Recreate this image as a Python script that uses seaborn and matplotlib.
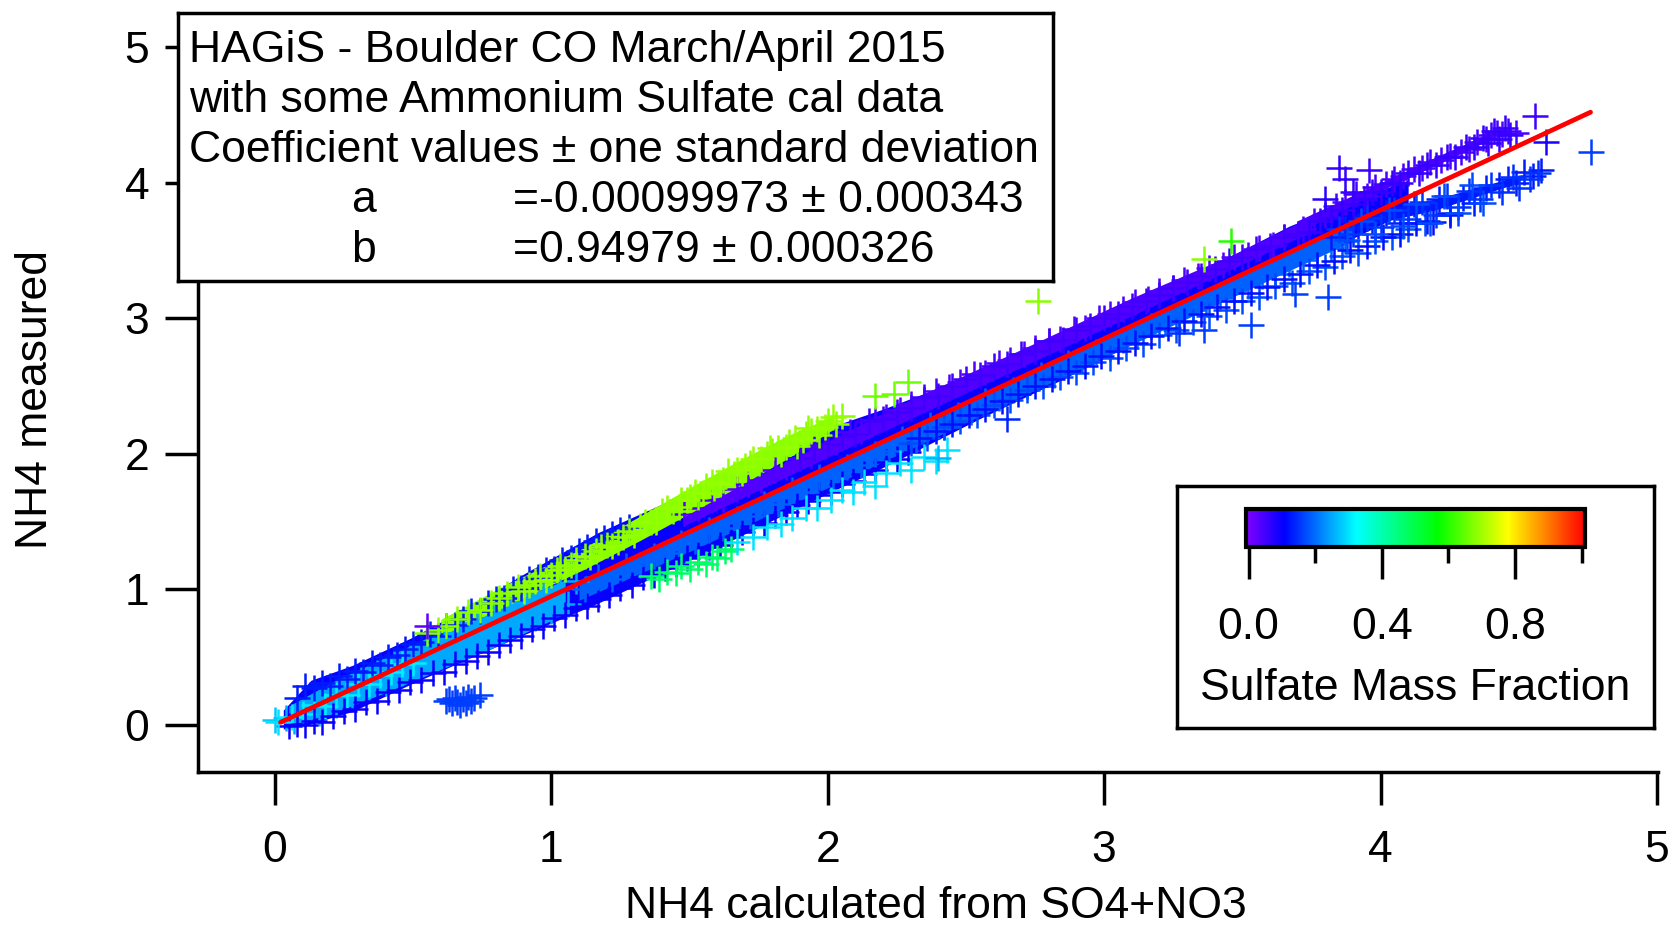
# -*- coding: utf-8 -*-
"""
NH4 measured vs NH4 calculated, coloured by sulfate mass fraction
"""
import pandas as pd
import seaborn as sns
import matplotlib as mpl
from matplotlib import pyplot as plt
from matplotlib.colors import LinearSegmentedColormap, Normalize

X_TICKS = [0, 1, 2, 3, 4, 5]
Y_TICKS = [0, 1, 2, 3, 4, 5]
CBAR_TICKS = [0.0, 0.4, 0.8]
CBAR_MINOR = [0.2, 0.6, 1.0]
BOX_LINES = ['HAGiS - Boulder CO March/April 2015',
             'with some Ammonium Sulfate cal data',
             'Coefficient values \u00b1 one standard deviation']
COEF_NAMES = ['a', 'b']
COEF_VALUES = ['=-0.00099973 \u00b1 0.000343', '=0.94979 \u00b1 0.000326']

fit_x = [0.02, 4.76]
fit_y = [0.02, 4.52]

# solid core of the cloud, lower and upper edge
core_x = [0.03, 0.13, 0.28, 0.49, 0.70, 0.905, 1.17, 1.39, 1.66, 1.94, 2.2, 2.56, 2.85, 3.11, 3.4, 3.67, 3.9, 4.1]
core_lo = [-0.03, 0.01, 0.10, 0.30, 0.49, 0.67, 0.90, 1.11, 1.37, 1.65, 1.90, 2.27, 2.55, 2.82, 3.10, 3.37, 3.59, 3.79]
core_hi = [0.11, 0.33, 0.44, 0.64, 0.87, 1.12, 1.42, 1.62, 1.85, 2.15, 2.33, 2.61, 2.88, 3.14, 3.40, 3.68, 3.87, 4.02]
light_x = [0.05, 0.2, 0.4, 0.6, 0.8, 1.05]
light_lo = [0.0, 0.08, 0.24, 0.41, 0.58, 0.82]
light_hi = [0.14, 0.31, 0.50, 0.69, 0.86, 1.07]
azure_x = [1.1, 1.5, 2, 2.5, 3, 3.5, 3.9]
azure_lo = [0.92, 1.28, 1.75, 2.23, 2.71, 3.19, 3.57]
azure_hi = [1.06, 1.44, 1.91, 2.39, 2.86, 3.33, 3.72]
violet_x = [1.48, 1.9, 2.3, 2.7, 3.1, 3.5, 3.75]
violet_lo = [1.47, 1.88, 2.26, 2.64, 3.02, 3.40, 3.64]
violet_hi = [1.58, 1.99, 2.40, 2.77, 3.15, 3.50, 3.75]
lime_x = [0.6, 0.84, 1.12, 1.32, 1.5, 1.66, 1.85, 2.02]
lime_lo = [0.66, 0.88, 1.15, 1.36, 1.56, 1.74, 1.96, 2.18]
lime_hi = [0.78, 1.04, 1.31, 1.54, 1.75, 1.93, 2.13, 2.28]
arm_up_bx = [3.7, 4.0, 4.2, 4.4]
arm_up_lo = [3.63, 3.94, 4.13, 4.32]
arm_up_hi = [3.72, 4.00, 4.19, 4.37]
arm_low_bx = [3.9, 4.2, 4.5]
arm_low_lo = [3.66, 3.80, 4.00]
arm_low_hi = [3.76, 3.88, 4.05]

# single samples, one pair of lists per air mass
top_x = [0.08, 0.11, 0.14, 0.17, 0.20, 0.23, 0.26, 0.29, 0.32, 0.35, 0.38, 0.41, 0.44, 0.47, 0.50, 0.53, 0.56, 0.59, 0.62, 0.65,
         0.68, 0.71, 0.74, 0.77, 0.80, 0.83, 0.86, 0.89, 0.92, 0.95, 0.98, 1.01, 1.04, 1.07, 1.10, 1.13, 1.16, 1.19, 1.22, 1.25, 1.28]
top_y = [0.20, 0.29, 0.27, 0.31, 0.29, 0.36, 0.34, 0.40, 0.39, 0.46, 0.44, 0.50, 0.52, 0.56, 0.60, 0.61, 0.67, 0.66, 0.73, 0.74,
         0.78, 0.84, 0.84, 0.90, 0.93, 0.94, 1.00, 1.01, 1.08, 1.09, 1.14, 1.15, 1.22, 1.23, 1.28, 1.31, 1.36, 1.38, 1.41, 1.44, 1.46]
light_pts_x = [0.04, 0.07, 0.10, 0.13, 0.16, 0.19, 0.22, 0.25, 0.28, 0.31, 0.34, 0.37, 0.40, 0.43, 0.46, 0.49, 0.52, 0.55, 0.58,
               0.61, 0.64, 0.67, 0.70, 0.73, 0.76, 0.79, 0.82, 0.85, 0.88, 0.91, 0.94, 0.97, 1.00, 1.03, 1.06, 1.09]
light_pts_y = [0.05, 0.03, 0.10, 0.12, 0.09, 0.19, 0.15, 0.27, 0.21, 0.33, 0.27, 0.38, 0.31, 0.45, 0.38, 0.50, 0.44, 0.58, 0.48,
               0.62, 0.54, 0.68, 0.59, 0.75, 0.65, 0.79, 0.69, 0.85, 0.74, 0.91, 0.79, 0.97, 0.84, 1.01, 0.89, 1.06]
cyan_low_x = [0.06, 0.10, 0.14, 0.18, 0.22, 0.26, 0.30, 0.34, 0.38, 0.42, 0.46, 0.50]
cyan_low_y = [0.06, 0.08, 0.15, 0.14, 0.22, 0.22, 0.30, 0.30, 0.37, 0.39, 0.45, 0.46]
bottom_x = [0.05, 0.08, 0.11, 0.14, 0.17, 0.21, 0.25, 0.29, 0.33, 0.37, 0.41, 0.45, 0.49, 0.53, 0.57, 0.61, 0.65, 0.69, 0.73, 0.77,
            0.81, 0.85, 0.89, 0.93, 0.97, 1.01, 1.05, 1.09, 1.13, 1.17, 1.21, 1.25, 1.29, 1.33, 1.37, 1.41, 1.45, 1.49, 1.53, 1.57,
            1.61, 1.65, 1.69, 1.73, 1.77, 1.81, 1.85, 1.89, 1.93, 1.97, 2.01, 2.05, 2.09, 2.13, 2.17, 2.21, 2.25, 2.29]
bottom_y = [-0.01, 0.01, 0.00, 0.03, 0.02, 0.07, 0.10, 0.12, 0.17, 0.18, 0.24, 0.26, 0.32, 0.33, 0.38, 0.39, 0.45, 0.47, 0.51, 0.54,
            0.59, 0.63, 0.66, 0.71, 0.73, 0.79, 0.81, 0.86, 0.88, 0.93, 0.96, 1.01, 1.03, 1.09, 1.11, 1.16, 1.19, 1.23, 1.26, 1.31,
            1.33, 1.39, 1.42, 1.47, 1.49, 1.55, 1.57, 1.62, 1.65, 1.70, 1.72, 1.78, 1.80, 1.85, 1.88, 1.94, 1.96, 2.01]
mid_x = [1.12, 1.17, 1.22, 1.27, 1.32, 1.37, 1.42, 1.47, 1.52, 1.57, 1.62, 1.67, 1.72, 1.77, 1.82, 1.87, 1.92, 1.97, 2.02, 2.07,
         2.12, 2.17, 2.22, 2.27, 2.32, 2.37, 2.42, 2.47, 2.52, 2.57, 2.62, 2.67, 2.72, 2.77, 2.82, 2.87, 2.92, 2.97, 3.02, 3.07,
         3.12, 3.17, 3.22, 3.27, 3.32, 3.37, 3.42, 3.47, 3.52, 3.57, 3.62, 3.67, 3.72, 3.77, 3.82, 3.87]
mid_y = [1.00, 1.09, 1.08, 1.17, 1.18, 1.25, 1.27, 1.34, 1.36, 1.44, 1.45, 1.52, 1.54, 1.63, 1.63, 1.73, 1.72, 1.83, 1.82, 1.90,
         1.92, 2.00, 2.02, 2.11, 2.10, 2.21, 2.20, 2.29, 2.31, 2.39, 2.41, 2.47, 2.50, 2.58, 2.58, 2.67, 2.69, 2.75, 2.78, 2.84,
         2.87, 2.94, 2.97, 3.03, 3.06, 3.12, 3.15, 3.21, 3.24, 3.31, 3.33, 3.40, 3.43, 3.50, 3.52, 3.57]
low_edge_x = [2.30, 2.36, 2.42, 2.48, 2.54, 2.60, 2.66, 2.72, 2.78, 2.84, 2.90, 2.96, 3.02, 3.08, 3.14, 3.20, 3.26, 3.32, 3.38,
              3.44, 3.50, 3.56, 3.62, 3.68, 3.74, 3.80, 3.86, 3.92, 3.98, 4.04, 4.10, 4.16]
low_edge_y = [2.08, 2.12, 2.20, 2.24, 2.29, 2.36, 2.40, 2.47, 2.50, 2.57, 2.60, 2.68, 2.71, 2.78, 2.81, 2.88, 2.91, 2.97, 3.02,
              3.06, 3.13, 3.16, 3.24, 3.26, 3.35, 3.38, 3.46, 3.48, 3.57, 3.60, 3.66, 3.70]
low2_x = [2.33, 2.39, 2.45, 2.51, 2.57, 2.63, 2.69, 2.75, 2.81, 2.87, 2.93, 2.99, 3.05, 3.11, 3.17, 3.23, 3.29, 3.35, 3.41, 3.47,
          3.53, 3.59, 3.65, 3.71, 3.77, 3.83, 3.89, 3.95, 4.01, 4.07, 4.13, 4.19, 4.25]
low2_y = [2.12, 2.17, 2.22, 2.29, 2.33, 2.39, 2.44, 2.50, 2.55, 2.61, 2.65, 2.72, 2.76, 2.82, 2.87, 2.93, 2.98, 3.03, 3.08, 3.13,
          3.19, 3.23, 3.29, 3.33, 3.39, 3.42, 3.50, 3.53, 3.60, 3.62, 3.70, 3.71, 3.76]
vio_x = [1.48, 1.53, 1.58, 1.62, 1.67, 1.71, 1.76, 1.81, 1.85, 1.90, 1.94, 1.99, 2.03, 2.08, 2.12, 2.17, 2.21, 2.26, 2.30, 2.35,
         2.39, 2.44, 2.48, 2.53, 2.57, 2.62, 2.66, 2.71, 2.75, 2.80, 2.84, 2.89, 2.93, 2.98, 3.02, 3.07, 3.11, 3.16, 3.20, 3.25,
         3.29, 3.34, 3.38, 3.43, 3.47, 3.52, 3.56, 3.61, 3.65, 3.70]
vio_y = [1.56, 1.60, 1.66, 1.67, 1.74, 1.78, 1.81, 1.88, 1.90, 1.97, 1.99, 2.06, 2.09, 2.16, 2.17, 2.25, 2.27, 2.32, 2.37, 2.40,
         2.46, 2.49, 2.53, 2.59, 2.60, 2.67, 2.69, 2.74, 2.78, 2.83, 2.85, 2.92, 2.93, 3.00, 3.03, 3.07, 3.12, 3.14, 3.20, 3.22,
         3.28, 3.31, 3.37, 3.39, 3.45, 3.47, 3.52, 3.54, 3.60, 3.62]
vio2_x = [1.90, 1.95, 2.00, 2.05, 2.10, 2.15, 2.20, 2.25, 2.30, 2.35, 2.40, 2.45, 2.50, 2.55, 2.60, 2.65, 2.70, 2.75, 2.80, 2.85,
          2.90, 2.95, 3.00, 3.05, 3.10, 3.15, 3.20, 3.25, 3.30, 3.35, 3.40, 3.45, 3.50, 3.55, 3.60, 3.65, 3.70]
vio2_y = [1.97, 2.04, 2.07, 2.13, 2.15, 2.24, 2.26, 2.31, 2.34, 2.42, 2.43, 2.50, 2.55, 2.58, 2.65, 2.66, 2.74, 2.76, 2.83, 2.84,
          2.91, 2.94, 3.00, 3.03, 3.09, 3.13, 3.17, 3.22, 3.27, 3.31, 3.36, 3.42, 3.45, 3.51, 3.53, 3.60, 3.62]
arm_up_x = [3.72, 3.76, 3.80, 3.84, 3.87, 3.91, 3.95, 3.98, 4.02, 4.05, 4.08, 4.12, 4.15, 4.18, 4.22, 4.25, 4.29, 4.32, 4.35, 4.38,
            4.40, 4.42, 4.44, 4.46, 4.49]
arm_up_y = [3.66, 3.72, 3.76, 3.83, 3.86, 3.92, 3.90, 3.97, 3.99, 4.03, 4.05, 4.10, 4.11, 4.15, 4.17, 4.20, 4.23, 4.25, 4.30, 4.32,
            4.35, 4.37, 4.36, 4.38, 4.37]
arm_up2_x = [3.74, 3.78, 3.82, 3.86, 3.90, 3.94, 3.97, 4.00, 4.04, 4.07, 4.10, 4.14, 4.17, 4.20, 4.24, 4.27, 4.31, 4.34, 4.37, 4.39,
             4.41, 4.43, 4.45, 4.47]
arm_up2_y = [3.64, 3.72, 3.74, 3.80, 3.84, 3.88, 3.93, 3.93, 4.00, 4.00, 4.07, 4.07, 4.13, 4.13, 4.19, 4.19, 4.26, 4.26, 4.33, 4.29,
             4.38, 4.32, 4.40, 4.35]
arm_low_x = [3.82, 3.87, 3.92, 3.97, 4.02, 4.07, 4.12, 4.17, 4.21, 4.25, 4.30, 4.34, 4.38, 4.43, 4.46, 4.49, 4.52, 4.55, 4.58]
arm_low_y = [3.60, 3.66, 3.68, 3.72, 3.78, 3.70, 3.84, 3.72, 3.88, 3.78, 3.89, 3.85, 3.96, 3.98, 4.03, 4.00, 4.08, 4.05, 4.09]
arm_low2_x = [3.85, 3.90, 3.95, 4.00, 4.05, 4.10, 4.15, 4.20, 4.24, 4.28, 4.32, 4.36, 4.40, 4.44, 4.48, 4.50, 4.54, 4.57]
arm_low2_y = [3.66, 3.62, 3.74, 3.67, 3.80, 3.73, 3.86, 3.76, 3.90, 3.82, 3.94, 3.88, 3.98, 3.93, 4.04, 3.96, 4.03, 4.07]
arm_low3_x = [3.88, 3.93, 3.98, 4.03, 4.08, 4.13, 4.18, 4.23, 4.28, 4.33, 4.37]
arm_low3_y = [3.58, 3.72, 3.62, 3.80, 3.68, 3.84, 3.70, 3.90, 3.78, 3.98, 3.85]
lime_pts_x = [0.55, 0.59, 0.62, 0.66, 0.70, 0.74, 0.78, 0.81, 0.84, 0.88, 0.92, 0.96, 1.00, 1.03, 1.07, 1.12, 1.16, 1.20, 1.24, 1.28,
              1.32, 1.36, 1.40, 1.44, 1.47, 1.50, 1.53, 1.56, 1.59, 1.62, 1.66, 1.69, 1.72, 1.75, 1.78, 1.80, 1.83, 1.86, 1.89, 1.92,
              1.94, 1.97, 2.00, 2.03, 2.05]
lime_pts_y = [0.68, 0.70, 0.73, 0.78, 0.83, 0.85, 0.90, 0.94, 0.97, 1.02, 1.03, 1.10, 1.11, 1.17, 1.18, 1.25, 1.28, 1.33, 1.35, 1.43,
              1.47, 1.50, 1.58, 1.58, 1.66, 1.68, 1.68, 1.76, 1.75, 1.81, 1.85, 1.86, 1.93, 1.93, 2.00, 2.02, 2.00, 2.09, 2.06, 2.15,
              2.17, 2.14, 2.24, 2.22, 2.28]
lime2_x = [0.90, 0.94, 0.98, 1.02, 1.05, 1.09, 1.14, 1.18, 1.22, 1.26, 1.30, 1.34, 1.38, 1.42, 1.46, 1.49, 1.52, 1.55, 1.58, 1.61,
           1.64, 1.67, 1.70, 1.73, 1.76, 1.79, 1.82, 1.85, 1.88, 1.91, 1.93, 1.96, 1.99, 2.02]
lime2_y = [0.99, 1.06, 1.07, 1.14, 1.15, 1.22, 1.24, 1.31, 1.32, 1.39, 1.40, 1.50, 1.50, 1.60, 1.61, 1.66, 1.72, 1.71, 1.79, 1.78,
           1.87, 1.88, 1.91, 1.96, 1.96, 2.04, 2.04, 2.05, 2.12, 2.10, 2.19, 2.18, 2.20, 2.27]
spring_x = [1.36, 1.39, 1.42, 1.45, 1.47, 1.50, 1.53, 1.56, 1.58, 1.60, 1.63, 1.65]
spring_y = [1.10, 1.08, 1.13, 1.12, 1.17, 1.15, 1.20, 1.19, 1.24, 1.23, 1.28, 1.30]
cyan_x = [1.67, 1.73, 1.78, 1.83, 1.87, 1.92, 1.96, 2.01, 2.05, 2.09, 2.13, 2.17, 2.21, 2.26, 2.30, 2.35, 2.39, 2.43]
cyan_y = [1.35, 1.39, 1.46, 1.48, 1.53, 1.60, 1.60, 1.66, 1.73, 1.72, 1.79, 1.76, 1.86, 1.93, 1.88, 1.98, 1.95, 2.03]
patch_x = [0.62, 0.63, 0.64, 0.65, 0.66, 0.67, 0.68, 0.69, 0.70, 0.71, 0.72, 0.74]
patch_y = [0.18, 0.19, 0.16, 0.20, 0.17, 0.15, 0.19, 0.16, 0.21, 0.18, 0.20, 0.22]
stray_x = [2.76, 3.46, 3.36, 2.29, 2.17, 2.24, 4.76, 4.56, 4.60, 3.85, 3.96, 3.87, 3.80, 3.90, 3.53, 3.81, 3.69, 3.36, 3.27, 2.65, 2.40, 0.55, 0.0, 0.01]
stray_y = [3.13, 3.57, 3.44, 2.53, 2.43, 2.44, 4.23, 4.49, 4.30, 4.11, 4.09, 4.03, 3.88, 3.93, 2.95, 3.16, 3.18, 2.91, 2.89, 2.26, 1.97, 0.73, 0.04, 0.02]
stray_frac = [0.68, 0.60, 0.68, 0.66, 0.66, 0.66, 0.16, 0.05, 0.08, 0.06, 0.05, 0.06, 0.07, 0.06, 0.16, 0.16, 0.16, 0.16, 0.15, 0.14, 0.26, 0.02, 0.28, 0.30]

FRAC_NODES = [0.0, 0.113, 0.325, 0.566, 0.773, 1.0]
FRAC_COLOURS = ['#8000ff', '#0000ff', '#00ffff', '#00ff00', '#ffff00', '#ff0000']

W, H = 1672, 927
LW = 2.5
FS = 32

sns.set_style('ticks')
plt.rcParams['font.family'] = ['Liberation Sans', 'DejaVu Sans']
plt.rcParams['text.color'] = 'k'
plt.rcParams['axes.labelcolor'] = 'k'
plt.rcParams['xtick.labelcolor'] = 'k'
plt.rcParams['ytick.labelcolor'] = 'k'

rainbow = LinearSegmentedColormap.from_list('rainbow_igor', list(zip(FRAC_NODES, FRAC_COLOURS)), N=512)
norm = Normalize(vmin=-0.008, vmax=1.01)


def px_axes(fig, left, top, right, bottom, zorder=1):
    """Axes placed by pixel edges of the final image"""
    return fig.add_axes([left/W, 1 - bottom/H, (right - left)/W, (bottom - top)/H], zorder=zorder)


groups = [(light_pts_x, light_pts_y, 0.25), (cyan_low_x, cyan_low_y, 0.31), (bottom_x, bottom_y, 0.10),
          (mid_x, mid_y, 0.19), (low_edge_x, low_edge_y, 0.17), (low2_x, low2_y, 0.12),
          (vio_x, vio_y, 0.035), (vio2_x, vio2_y, 0.05),
          (arm_up_x, arm_up_y, 0.04), (arm_up2_x, arm_up2_y, 0.06),
          (arm_low_x, arm_low_y, 0.13), (arm_low2_x, arm_low2_y, 0.15), (arm_low3_x, arm_low3_y, 0.17),
          (top_x, top_y, 0.13), (lime_pts_x, lime_pts_y, 0.68), (lime2_x, lime2_y, 0.69),
          (spring_x, spring_y, 0.47), (cyan_x, cyan_y, 0.30), (patch_x, patch_y, 0.16)]
frames = [pd.DataFrame({'calc': gx, 'meas': gy, 'frac': fr}) for gx, gy, fr in groups]
frames.append(pd.DataFrame({'calc': stray_x, 'meas': stray_y, 'frac': stray_frac}))
df = pd.concat(frames, ignore_index=True)

fig = plt.figure(figsize=(W/100, H/100), dpi=100)
ax = px_axes(fig, 198, 20, 1658, 772)

bands = [(core_x, core_lo, core_hi, 0.10), (light_x, light_lo, light_hi, 0.25),
         (azure_x, azure_lo, azure_hi, 0.19), (violet_x, violet_lo, violet_hi, 0.035),
         (arm_up_bx, arm_up_lo, arm_up_hi, 0.04), (arm_low_bx, arm_low_lo, arm_low_hi, 0.13),
         (lime_x, lime_lo, lime_hi, 0.68)]
for bx, lo, hi, fr in bands:
    ax.fill_between(bx, lo, hi, color=rainbow(norm(fr)), lw=0, zorder=0.5)

sns.scatterplot(data=df, x='calc', y='meas', hue='frac', palette=rainbow, hue_norm=norm,
                marker='+', s=350, linewidth=1.8, legend=False, ax=ax)
sns.lineplot(x=fit_x, y=fit_y, color='#ff0000', linewidth=3.4, sort=False, ax=ax)

ax.set_xlim(-0.2786, 5.004)
ax.set_ylim(-0.3466, 5.2)
ax.set_xticks(X_TICKS)
ax.set_yticks(Y_TICKS)
ax.tick_params(axis='x', length=24, width=LW, labelsize=FS, pad=18, color='k')
ax.tick_params(axis='y', length=24, width=LW, labelsize=FS, pad=11, color='k')
for side in ['top', 'right']:
    ax.spines[side].set_visible(False)
for side in ['left', 'bottom']:
    ax.spines[side].set_linewidth(LW)
    ax.spines[side].set_color('k')
ax.set_xlabel('NH4 calculated from SO4+NO3', fontsize=FS, va='center')
ax.set_ylabel('NH4 measured', fontsize=FS, va='center')
ax.xaxis.set_label_coords(0.5055, -0.1795)
ax.yaxis.set_label_coords(-0.1115, 0.4947)

# fit results box
box = px_axes(fig, 178, 13, 1053, 281, zorder=5)
box.set_xlim(178, 1053)
box.set_ylim(281, 13)
box.set_xticks([])
box.set_yticks([])
for spine in box.spines.values():
    spine.set_linewidth(LW)
    spine.set_color('k')
for line, ypos in zip(BOX_LINES, [50, 100, 151]):
    box.text(189, ypos, line, fontsize=FS, va='center', ha='left')
for name, value, ypos in zip(COEF_NAMES, COEF_VALUES, [201, 251]):
    box.text(351, ypos, name, fontsize=FS, va='center', ha='left')
    box.text(513, ypos, value, fontsize=FS, va='center', ha='left')

# colour scale box
key = px_axes(fig, 1177, 486, 1654, 728, zorder=5)
key.set_xlim(1177, 1654)
key.set_ylim(728, 486)
key.set_xticks([])
key.set_yticks([])
for spine in key.spines.values():
    spine.set_linewidth(LW)
    spine.set_color('k')
key.text(1415, 688, 'Sulfate Mass Fraction', fontsize=FS, va='center', ha='center')

cax = px_axes(fig, 1246, 509, 1585, 547, zorder=6)
cbar = fig.colorbar(mpl.cm.ScalarMappable(norm=norm, cmap=rainbow), cax=cax, orientation='horizontal')
cbar.outline.set_linewidth(3)
cbar.outline.set_edgecolor('k')
cbar.set_ticks(CBAR_TICKS)
cbar.set_ticklabels(['%.1f' % t for t in CBAR_TICKS])
cax.xaxis.set_ticks(CBAR_MINOR, minor=True)
cax.tick_params(axis='x', which='major', length=23, width=LW, labelsize=FS, pad=20, color='k')
cax.tick_params(axis='x', which='minor', length=11.5, width=LW, color='k')

plt.savefig('out.png', dpi=100)
plt.close()
